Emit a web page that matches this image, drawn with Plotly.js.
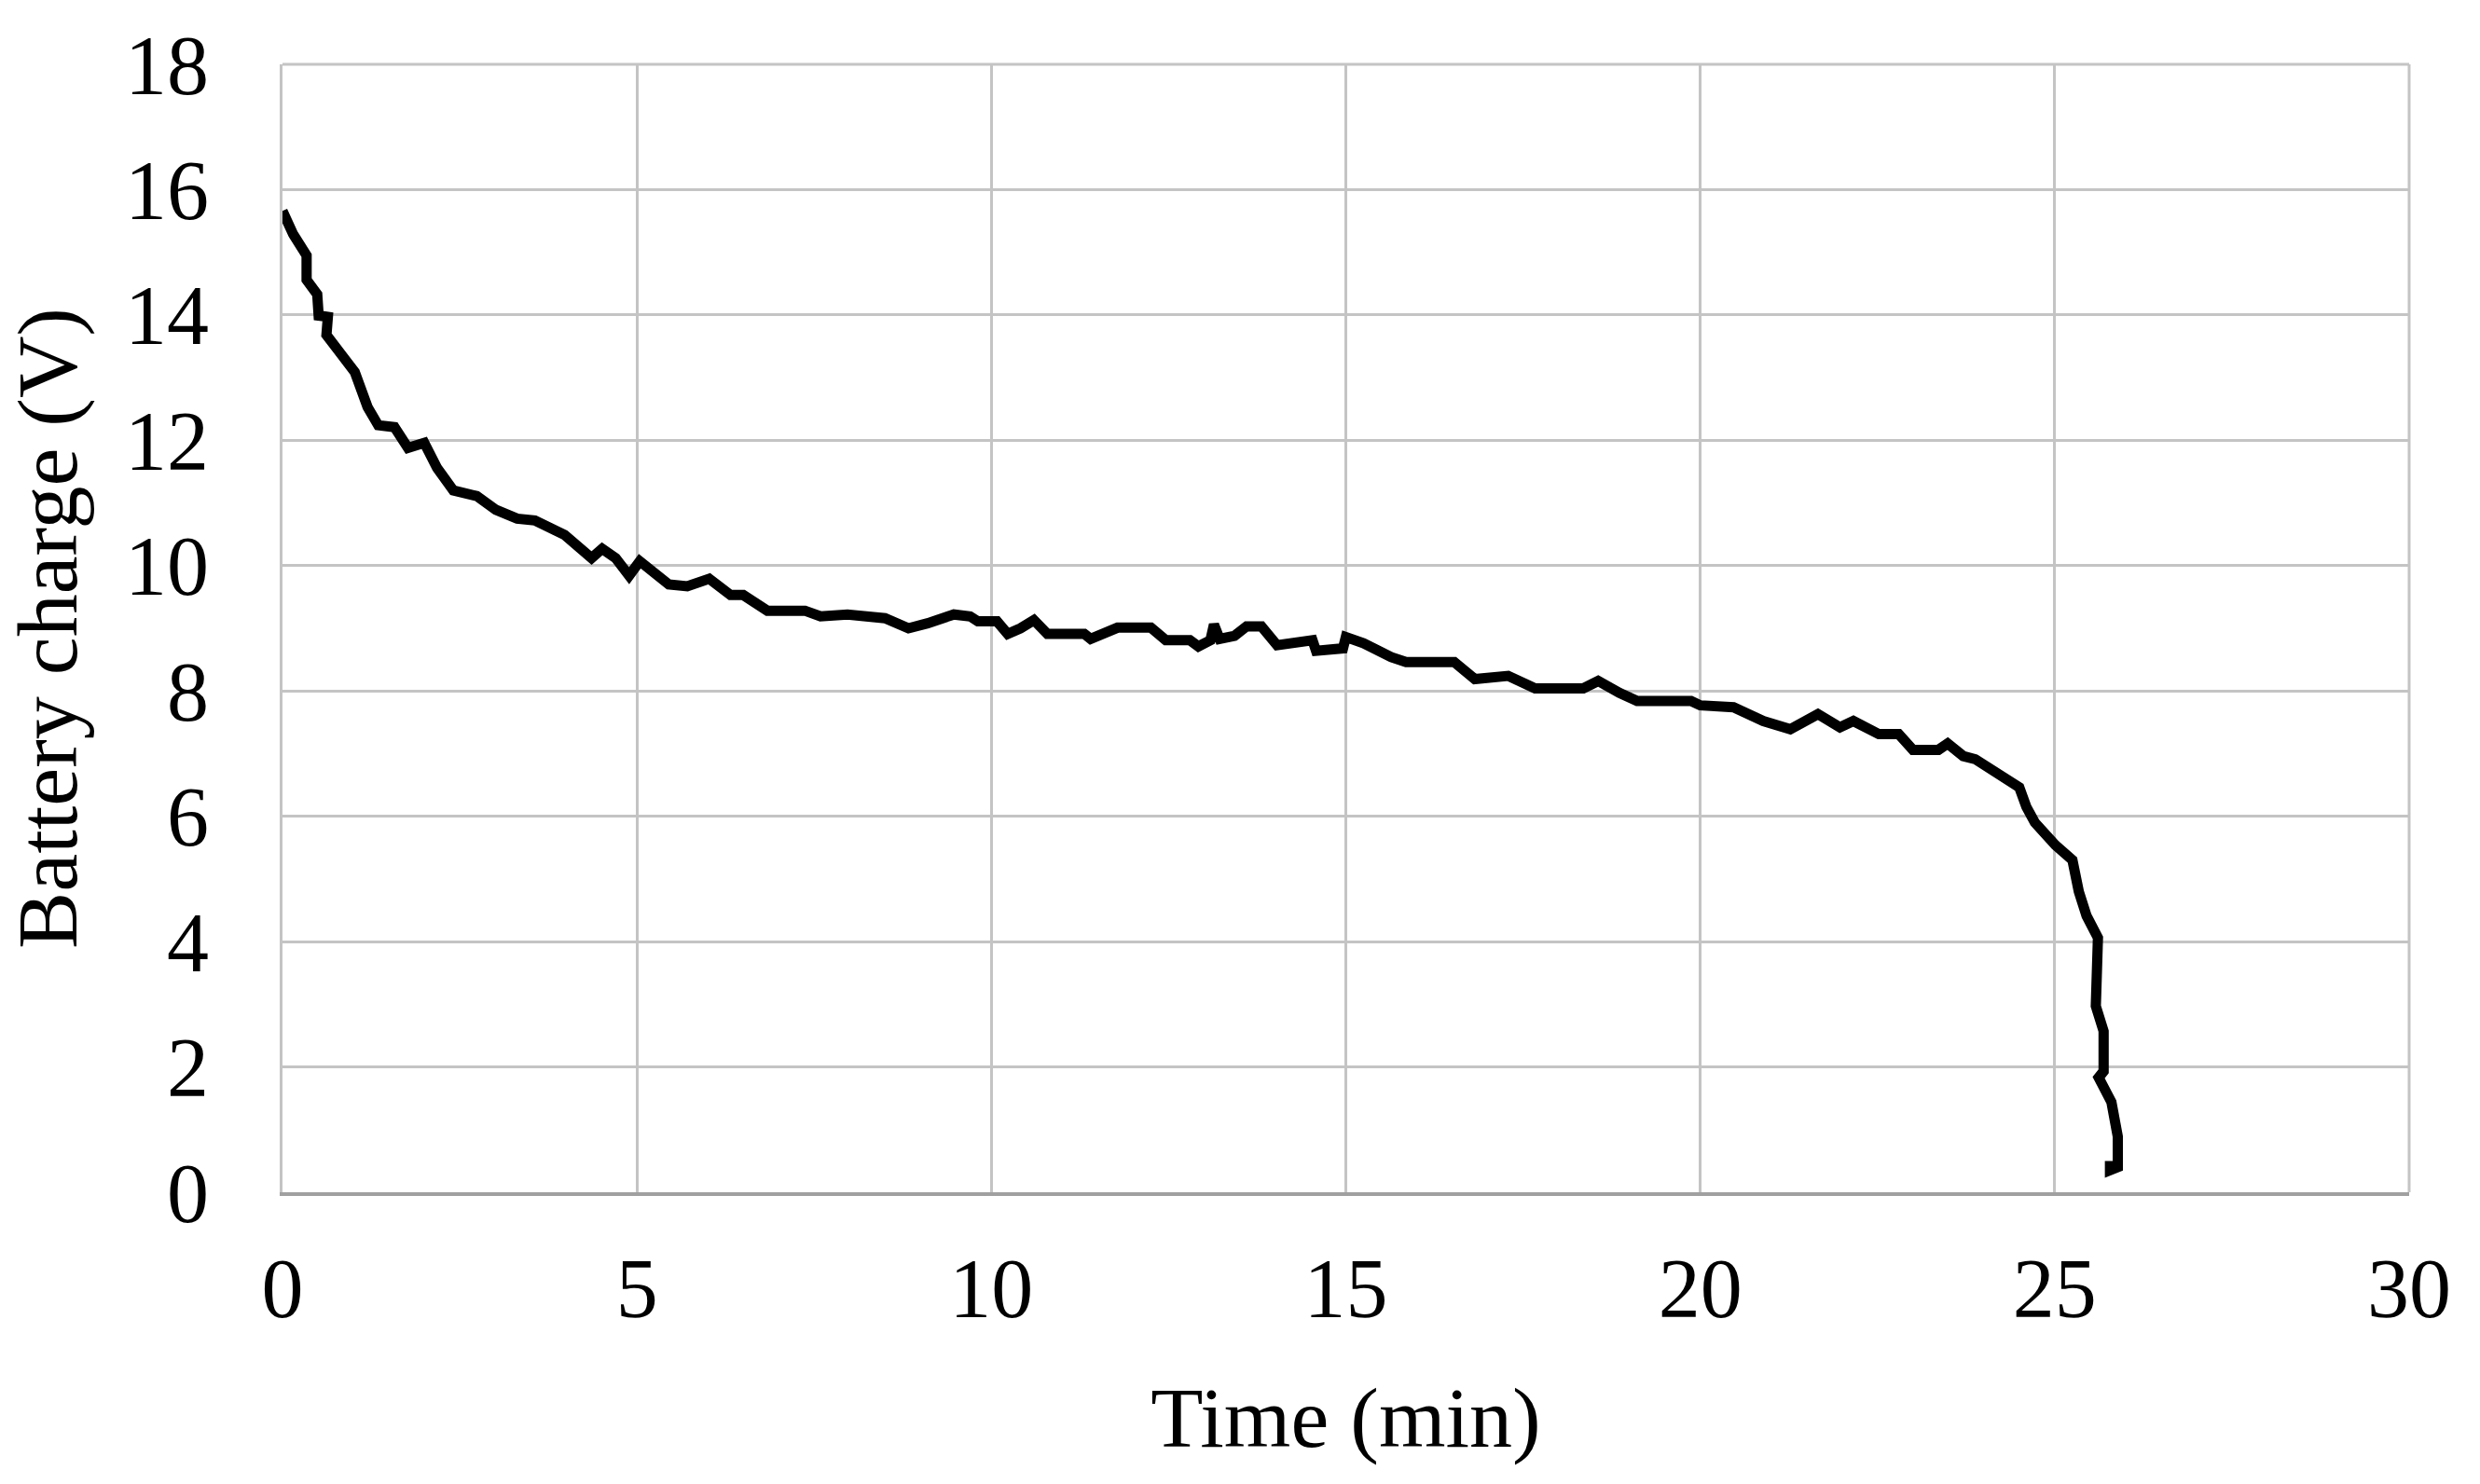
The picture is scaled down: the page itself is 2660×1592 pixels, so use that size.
<!DOCTYPE html>
<html>
<head>
<meta charset="utf-8">
<script src="https://cdn.plot.ly/plotly-3.0.1.min.js"></script>
<style>
html,body{margin:0;padding:0;background:#fff;}
#chart{width:2660px;height:1592px;}
</style>
</head>
<body>
<div id="chart"></div>
<script>
// Time (min)
const timeMin = [0.00,0.15,0.34,0.34,0.49,0.51,0.64,0.62,0.83,1.02,1.20,1.35,1.58,1.77,2.00,2.18,2.41,2.74,3.01,3.31,3.56,3.98,4.36,4.51,4.70,4.89,5.04,5.45,5.71,6.02,6.32,6.50,6.84,7.37,7.59,7.97,8.50,8.83,9.10,9.47,9.70,9.81,10.08,10.23,10.41,10.60,10.79,11.31,11.40,11.78,12.25,12.46,12.80,12.92,13.09,13.14,13.22,13.43,13.60,13.81,14.03,14.53,14.58,14.96,15.00,15.25,15.64,15.85,16.53,16.82,17.29,17.67,18.35,18.56,18.86,19.11,19.87,20.00,20.47,20.89,21.27,21.66,21.97,22.16,22.52,22.80,23.00,23.36,23.49,23.71,23.88,24.28,24.50,24.60,24.72,25.01,25.25,25.34,25.45,25.61,25.58,25.69,25.69,25.62,25.80,25.89,25.89,25.78,25.78];
// Battery charge (V)
const batteryV = [15.66,15.29,14.95,14.56,14.33,13.99,13.97,13.68,13.37,13.09,12.53,12.24,12.21,11.88,11.96,11.56,11.20,11.11,10.89,10.75,10.72,10.49,10.12,10.27,10.12,9.84,10.07,9.70,9.67,9.79,9.53,9.53,9.28,9.28,9.19,9.22,9.16,9.00,9.08,9.22,9.19,9.11,9.11,8.91,9.00,9.13,8.91,8.91,8.83,9.01,9.01,8.81,8.81,8.71,8.81,9.06,8.83,8.88,9.03,9.03,8.73,8.81,8.64,8.68,8.86,8.76,8.54,8.46,8.46,8.19,8.24,8.04,8.04,8.16,7.97,7.84,7.84,7.77,7.74,7.52,7.39,7.63,7.42,7.52,7.31,7.31,7.06,7.06,7.16,6.96,6.91,6.63,6.46,6.15,5.90,5.54,5.30,4.80,4.41,4.06,2.97,2.57,1.93,1.83,1.44,0.89,0.40,0.35,0.50];

const xTicks = [0,5,10,15,20,25,30];
const yTicks = [0,2,4,6,8,10,12,14,16,18];

const FONT = 'Liberation Serif, "Times New Roman", serif';

const trace = {
  x: timeMin,
  y: batteryV,
  type: 'scatter',
  mode: 'lines',
  line: {color: '#000000', width: 11},
  hoverinfo: 'skip'
};

const layout = {
  width: 2660,
  height: 1592,
  paper_bgcolor: '#ffffff',
  plot_bgcolor: '#ffffff',
  showlegend: false,
  margin: {l: 303, r: 76, t: 69, b: 313},
  font: {family: FONT, color: '#000000', size: 90},
  xaxis: {
    range: [0, 30],
    tickvals: xTicks,
    ticktext: xTicks.map(String),
    showgrid: true,
    gridcolor: '#c4c4c4',
    gridwidth: 3,
    zeroline: false,
    showline: true,
    linecolor: '#a0a0a0',
    linewidth: 4,
    mirror: false,
    ticks: '',
    ticklabelstandoff: 22,
    tickfont: {family: FONT, size: 90, color: '#000'},
    title: {text: 'Time (min)', font: {family: FONT, size: 92, color: '#000'}, standoff: 58}
  },
  yaxis: {
    range: [0, 18],
    tickvals: yTicks,
    ticktext: yTicks.map(String),
    showgrid: true,
    gridcolor: '#c4c4c4',
    gridwidth: 3,
    zeroline: false,
    showline: true,
    linecolor: '#c4c4c4',
    linewidth: 3,
    mirror: false,
    ticks: '',
    ticklabelstandoff: 58,
    tickfont: {family: FONT, size: 90, color: '#000'},
    title: {text: 'Battery charge (V)', font: {family: FONT, size: 92, color: '#000'}, standoff: 50}
  },
  shapes: [
    {type: 'line', xref: 'paper', yref: 'paper', x0: 0, x1: 1, y0: 1, y1: 1, line: {color: '#c4c4c4', width: 3}},
    {type: 'line', xref: 'paper', yref: 'paper', x0: 1, x1: 1, y0: 0, y1: 1, line: {color: '#c4c4c4', width: 3}}
  ]
};

Plotly.newPlot('chart', [trace], layout, {displayModeBar: false, staticPlot: true});
</script>
</body>
</html>
